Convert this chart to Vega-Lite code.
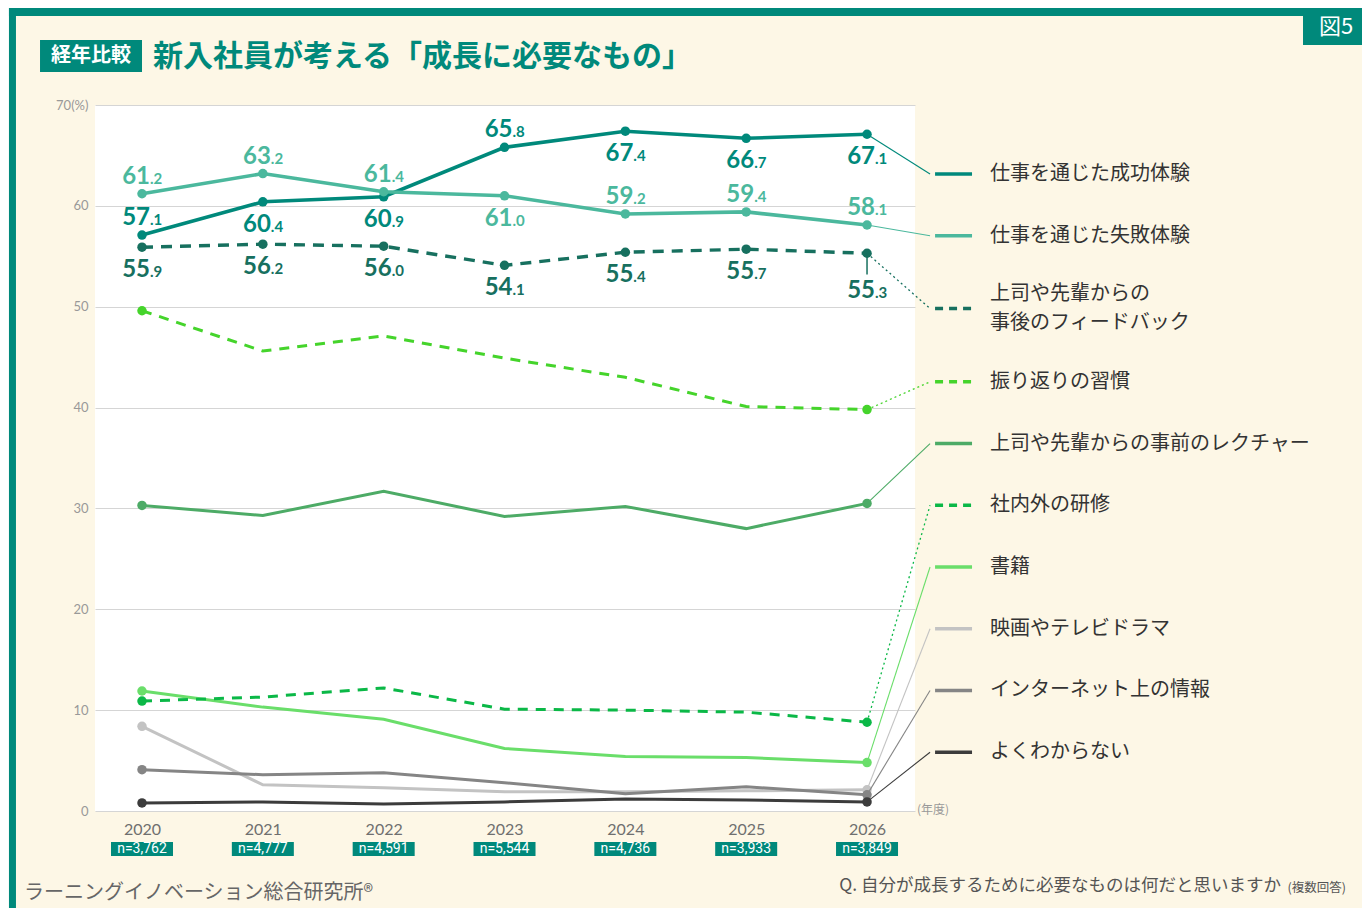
{
  "$schema": "https://vega.github.io/schema/vega-lite/v6.json",
  "width": 820,
  "height": 706,
  "autosize": {"type": "none"},
  "padding": {"left": 95, "top": 105, "right": 447, "bottom": 97},
  "background": "#fdf7e6",
  "config": {"view": {"fill": "white", "stroke": null}},
  "datasets": {
    "main": [
      {"series": "仕事を通じた成功体験", "year": 2020, "value": 57.1},
      {"series": "仕事を通じた成功体験", "year": 2021, "value": 60.4},
      {"series": "仕事を通じた成功体験", "year": 2022, "value": 60.9},
      {"series": "仕事を通じた成功体験", "year": 2023, "value": 65.8},
      {"series": "仕事を通じた成功体験", "year": 2024, "value": 67.4},
      {"series": "仕事を通じた成功体験", "year": 2025, "value": 66.7},
      {"series": "仕事を通じた成功体験", "year": 2026, "value": 67.1},
      {"series": "仕事を通じた失敗体験", "year": 2020, "value": 61.2},
      {"series": "仕事を通じた失敗体験", "year": 2021, "value": 63.2},
      {"series": "仕事を通じた失敗体験", "year": 2022, "value": 61.4},
      {"series": "仕事を通じた失敗体験", "year": 2023, "value": 61.0},
      {"series": "仕事を通じた失敗体験", "year": 2024, "value": 59.2},
      {"series": "仕事を通じた失敗体験", "year": 2025, "value": 59.4},
      {"series": "仕事を通じた失敗体験", "year": 2026, "value": 58.1},
      {"series": "上司や先輩からの事後のフィードバック", "year": 2020, "value": 55.9},
      {"series": "上司や先輩からの事後のフィードバック", "year": 2021, "value": 56.2},
      {"series": "上司や先輩からの事後のフィードバック", "year": 2022, "value": 56.0},
      {"series": "上司や先輩からの事後のフィードバック", "year": 2023, "value": 54.1},
      {"series": "上司や先輩からの事後のフィードバック", "year": 2024, "value": 55.4},
      {"series": "上司や先輩からの事後のフィードバック", "year": 2025, "value": 55.7},
      {"series": "上司や先輩からの事後のフィードバック", "year": 2026, "value": 55.3},
      {"series": "振り返りの習慣", "year": 2020, "value": 49.6},
      {"series": "振り返りの習慣", "year": 2021, "value": 45.6},
      {"series": "振り返りの習慣", "year": 2022, "value": 47.1},
      {"series": "振り返りの習慣", "year": 2023, "value": 44.9},
      {"series": "振り返りの習慣", "year": 2024, "value": 43.0},
      {"series": "振り返りの習慣", "year": 2025, "value": 40.1},
      {"series": "振り返りの習慣", "year": 2026, "value": 39.8},
      {"series": "上司や先輩からの事前のレクチャー", "year": 2020, "value": 30.3},
      {"series": "上司や先輩からの事前のレクチャー", "year": 2021, "value": 29.3},
      {"series": "上司や先輩からの事前のレクチャー", "year": 2022, "value": 31.7},
      {"series": "上司や先輩からの事前のレクチャー", "year": 2023, "value": 29.2},
      {"series": "上司や先輩からの事前のレクチャー", "year": 2024, "value": 30.2},
      {"series": "上司や先輩からの事前のレクチャー", "year": 2025, "value": 28.0},
      {"series": "上司や先輩からの事前のレクチャー", "year": 2026, "value": 30.5},
      {"series": "社内外の研修", "year": 2020, "value": 10.9},
      {"series": "社内外の研修", "year": 2021, "value": 11.3},
      {"series": "社内外の研修", "year": 2022, "value": 12.2},
      {"series": "社内外の研修", "year": 2023, "value": 10.1},
      {"series": "社内外の研修", "year": 2024, "value": 10.0},
      {"series": "社内外の研修", "year": 2025, "value": 9.8},
      {"series": "社内外の研修", "year": 2026, "value": 8.8},
      {"series": "書籍", "year": 2020, "value": 11.9},
      {"series": "書籍", "year": 2021, "value": 10.3},
      {"series": "書籍", "year": 2022, "value": 9.1},
      {"series": "書籍", "year": 2023, "value": 6.2},
      {"series": "書籍", "year": 2024, "value": 5.4},
      {"series": "書籍", "year": 2025, "value": 5.3},
      {"series": "書籍", "year": 2026, "value": 4.8},
      {"series": "映画やテレビドラマ", "year": 2020, "value": 8.4},
      {"series": "映画やテレビドラマ", "year": 2021, "value": 2.6},
      {"series": "映画やテレビドラマ", "year": 2022, "value": 2.3},
      {"series": "映画やテレビドラマ", "year": 2023, "value": 1.9},
      {"series": "映画やテレビドラマ", "year": 2024, "value": 1.9},
      {"series": "映画やテレビドラマ", "year": 2025, "value": 2.0},
      {"series": "映画やテレビドラマ", "year": 2026, "value": 2.1},
      {"series": "インターネット上の情報", "year": 2020, "value": 4.1},
      {"series": "インターネット上の情報", "year": 2021, "value": 3.6},
      {"series": "インターネット上の情報", "year": 2022, "value": 3.8},
      {"series": "インターネット上の情報", "year": 2023, "value": 2.8},
      {"series": "インターネット上の情報", "year": 2024, "value": 1.7},
      {"series": "インターネット上の情報", "year": 2025, "value": 2.4},
      {"series": "インターネット上の情報", "year": 2026, "value": 1.6},
      {"series": "よくわからない", "year": 2020, "value": 0.8},
      {"series": "よくわからない", "year": 2021, "value": 0.9},
      {"series": "よくわからない", "year": 2022, "value": 0.7},
      {"series": "よくわからない", "year": 2023, "value": 0.9},
      {"series": "よくわからない", "year": 2024, "value": 1.2},
      {"series": "よくわからない", "year": 2025, "value": 1.1},
      {"series": "よくわからない", "year": 2026, "value": 0.9}
    ],
    "legend": [
      {"series": "仕事を通じた成功体験", "label": "仕事を通じた成功体験", "order": 1},
      {"series": "仕事を通じた失敗体験", "label": "仕事を通じた失敗体験", "order": 2},
      {"series": "上司や先輩からの事後のフィードバック", "label": "上司や先輩からの\n事後のフィードバック", "order": 3},
      {"series": "振り返りの習慣", "label": "振り返りの習慣", "order": 4},
      {"series": "上司や先輩からの事前のレクチャー", "label": "上司や先輩からの事前のレクチャー", "order": 5},
      {"series": "社内外の研修", "label": "社内外の研修", "order": 6},
      {"series": "書籍", "label": "書籍", "order": 7},
      {"series": "映画やテレビドラマ", "label": "映画やテレビドラマ", "order": 8},
      {"series": "インターネット上の情報", "label": "インターネット上の情報", "order": 9},
      {"series": "よくわからない", "label": "よくわからない", "order": 10}
    ],
    "samples": [
      {"year": 2020, "n": "n=3,762"},
      {"year": 2021, "n": "n=4,777"},
      {"year": 2022, "n": "n=4,591"},
      {"year": 2023, "n": "n=5,544"},
      {"year": 2024, "n": "n=4,736"},
      {"year": 2025, "n": "n=3,933"},
      {"year": 2026, "n": "n=3,849"}
    ]
  },
  "layer": [
    {
      "data": {"name": "main"},
      "encoding": {
        "x": {"field": "year", "type": "quantitative", "scale": {"domain": [2019.611, 2026.397], "nice": false, "zero": false},
              "axis": {"values": [2020, 2021, 2022, 2023, 2024, 2025, 2026], "format": "d", "grid": false, "domain": false, "ticks": false, "labelFontSize": 16, "labelColor": "#6f6f6f", "labelFont": "Lato", "labelPadding": 10, "title": null}},
        "y": {"field": "value", "type": "quantitative", "scale": {"domain": [0, 70], "nice": false, "zero": false},
              "axis": {"values": [0, 10, 20, 30, 40, 50, 60, 70], "grid": true, "gridColor": "#d5d5d5", "gridWidth": 1, "domain": false, "ticks": false, "labelFontSize": 13, "labelColor": "#999999", "labelFont": "Lato", "labelPadding": 7, "labelExpr": "datum.value == 70 ? '70(%)' : datum.label", "title": null}},
        "color": {"field": "series", "type": "nominal", "legend": null,
                  "scale": {"domain": ["仕事を通じた成功体験", "仕事を通じた失敗体験", "上司や先輩からの事後のフィードバック", "振り返りの習慣", "上司や先輩からの事前のレクチャー", "社内外の研修", "書籍", "映画やテレビドラマ", "インターネット上の情報", "よくわからない"],
                            "range": ["#00897b", "#4bb89d", "#17705f", "#45d42b", "#4dab66", "#0bb847", "#6ade6a", "#c3c3c3", "#858585", "#3c3c3c"]}}
      },
      "layer": [
        {"transform": [{"filter": {"field": "series", "oneOf": ["映画やテレビドラマ", "インターネット上の情報", "よくわからない", "書籍", "上司や先輩からの事前のレクチャー"]}}],
         "mark": {"type": "line", "strokeWidth": 3}},
        {"transform": [{"filter": {"field": "series", "oneOf": ["社内外の研修", "振り返りの習慣"]}}],
         "mark": {"type": "line", "strokeWidth": 3, "strokeDash": [10, 8]}},
        {"transform": [{"filter": {"field": "series", "oneOf": ["上司や先輩からの事後のフィードバック"]}}],
         "mark": {"type": "line", "strokeWidth": 3.4, "strokeDash": [11, 8]}},
        {"transform": [{"filter": {"field": "series", "oneOf": ["仕事を通じた成功体験", "仕事を通じた失敗体験"]}}],
         "mark": {"type": "line", "strokeWidth": 3.6}},
        {"transform": [{"filter": "indexof(['仕事を通じた成功体験','仕事を通じた失敗体験','上司や先輩からの事後のフィードバック'], datum.series) >= 0 || datum.year == 2020 || datum.year == 2026"}],
         "mark": {"type": "circle", "size": 90, "opacity": 1}}
      ]
    },
    {
      "data": {"values": [{}]},
      "layer": [
        {"mark": {"type": "rect", "color": "white"},
         "encoding": {"x": {"datum": 2018.3, "scale": {"domain": [2019.611, 2026.397], "nice": false, "zero": false}}, "x2": {"datum": 2018.899},
                      "y": {"datum": -12, "scale": {"domain": [0, 70], "nice": false, "zero": false}}, "y2": {"datum": 85}}},
        {"mark": {"type": "rect", "color": "white"},
         "encoding": {"x": {"datum": 2018.3, "scale": {"domain": [2019.611, 2026.397], "nice": false, "zero": false}}, "x2": {"datum": 2031},
                      "y": {"datum": 79.615, "scale": {"domain": [0, 70], "nice": false, "zero": false}}, "y2": {"datum": 85}}},
        {"mark": {"type": "rect", "color": "#00897b"},
         "encoding": {"x": {"datum": 2018.899, "scale": {"domain": [2019.611, 2026.397], "nice": false, "zero": false}}, "x2": {"datum": 2031},
                      "y": {"datum": 78.822, "scale": {"domain": [0, 70], "nice": false, "zero": false}}, "y2": {"datum": 79.615}}},
        {"mark": {"type": "rect", "color": "#00897b"},
         "encoding": {"x": {"datum": 2018.899, "scale": {"domain": [2019.611, 2026.397], "nice": false, "zero": false}}, "x2": {"datum": 2018.957},
                      "y": {"datum": -12, "scale": {"domain": [0, 70], "nice": false, "zero": false}}, "y2": {"datum": 79.615}}},
        {"mark": {"type": "rect", "color": "#00897b"},
         "encoding": {"x": {"datum": 2029.608, "scale": {"domain": [2019.611, 2026.397], "nice": false, "zero": false}}, "x2": {"datum": 2031},
                      "y": {"datum": 75.947, "scale": {"domain": [0, 70], "nice": false, "zero": false}}, "y2": {"datum": 79.615}}},
        {"mark": {"type": "text", "text": "図5", "color": "white", "fontSize": 22, "font": "Noto Sans CJK JP", "align": "center", "baseline": "middle"},
         "encoding": {"x": {"datum": 2029.882, "scale": {"domain": [2019.611, 2026.397], "nice": false, "zero": false}},
                      "y": {"datum": 77.731, "scale": {"domain": [0, 70], "nice": false, "zero": false}}}},
        {"mark": {"type": "rect", "color": "#00897b"},
         "encoding": {"x": {"datum": 2019.156, "scale": {"domain": [2019.611, 2026.397], "nice": false, "zero": false}}, "x2": {"datum": 2020.0},
                      "y": {"datum": 73.27, "scale": {"domain": [0, 70], "nice": false, "zero": false}}, "y2": {"datum": 76.443}}},
        {"mark": {"type": "text", "text": "経年比較", "color": "white", "fontSize": 20, "fontWeight": "bold", "font": "Noto Sans CJK JP", "align": "center", "baseline": "middle"},
         "encoding": {"x": {"datum": 2019.578, "scale": {"domain": [2019.611, 2026.397], "nice": false, "zero": false}},
                      "y": {"datum": 74.856, "scale": {"domain": [0, 70], "nice": false, "zero": false}}}},
        {"mark": {"type": "text", "text": "新入社員が考える「成長に必要なもの」", "color": "#00897b", "fontSize": 30, "fontWeight": "bold", "font": "Noto Sans CJK JP", "align": "left", "baseline": "middle"},
         "encoding": {"x": {"datum": 2020.091, "scale": {"domain": [2019.611, 2026.397], "nice": false, "zero": false}},
                      "y": {"datum": 74.757, "scale": {"domain": [0, 70], "nice": false, "zero": false}}}},
        {"mark": {"type": "text", "text": "(年度)", "color": "#999999", "fontSize": 12, "font": "Noto Sans CJK JP", "align": "left", "baseline": "middle"},
         "encoding": {"x": {"datum": 2026.414, "scale": {"domain": [2019.611, 2026.397], "nice": false, "zero": false}},
                      "y": {"datum": 0.05, "scale": {"domain": [0, 70], "nice": false, "zero": false}}}},
        {"mark": {"type": "text", "text": "ラーニングイノベーション総合研究所®", "color": "#666666", "fontSize": 20, "font": "Noto Sans CJK JP", "align": "left", "baseline": "middle"},
         "encoding": {"x": {"datum": 2019.023, "scale": {"domain": [2019.611, 2026.397], "nice": false, "zero": false}},
                      "y": {"datum": -8.13, "scale": {"domain": [0, 70], "nice": false, "zero": false}}}},
        {"mark": {"type": "text", "text": "Q. 自分が成長するために必要なものは何だと思いますか", "color": "#555555", "fontSize": 17.5, "font": "Noto Sans CJK JP", "align": "right", "baseline": "middle"},
         "encoding": {"x": {"datum": 2029.4265, "scale": {"domain": [2019.611, 2026.397], "nice": false, "zero": false}},
                      "y": {"datum": -7.436, "scale": {"domain": [0, 70], "nice": false, "zero": false}}}},
        {"mark": {"type": "text", "text": "(複数回答)", "color": "#555555", "fontSize": 12.5, "font": "Noto Sans CJK JP", "align": "right", "baseline": "middle"},
         "encoding": {"x": {"datum": 2029.964, "scale": {"domain": [2019.611, 2026.397], "nice": false, "zero": false}},
                      "y": {"datum": -7.63, "scale": {"domain": [0, 70], "nice": false, "zero": false}}}}
      ]
    },
    {
      "data": {"name": "main"},
      "encoding": {
        "x": {"field": "year", "type": "quantitative", "scale": {"domain": [2019.611, 2026.397], "nice": false, "zero": false}},
        "y": {"field": "value", "type": "quantitative", "scale": {"domain": [0, 70], "nice": false, "zero": false}},
        "color": {"field": "series", "type": "nominal", "legend": null}
      },
      "layer": [
        {"transform": [{"filter": "(datum.series == '仕事を通じた成功体験' && (datum.year == 2020 || datum.year == 2023)) || (datum.series == '仕事を通じた失敗体験' && datum.year != 2023)"}],
         "layer": [
           {"mark": {"type": "text", "text": {"expr": "floor(datum.value)"}, "align": "right", "baseline": "alphabetic", "dx": 8, "dy": -10, "fontSize": 24, "fontWeight": "bold", "font": "Lato"}},
           {"mark": {"type": "text", "text": {"expr": "'.' + slice(format(datum.value, '.1f'), -1)"}, "align": "left", "baseline": "alphabetic", "dx": 8, "dy": -10, "fontSize": 15, "fontWeight": "bold", "font": "Lato"}}
         ]},
        {"transform": [{"filter": "(datum.series == '仕事を通じた成功体験' && datum.year != 2020 && datum.year != 2023) || (datum.series == '仕事を通じた失敗体験' && datum.year == 2023) || (datum.series == '上司や先輩からの事後のフィードバック' && datum.year != 2026)"}],
         "layer": [
           {"mark": {"type": "text", "text": {"expr": "floor(datum.value)"}, "align": "right", "baseline": "alphabetic", "dx": 8, "dy": 30, "fontSize": 24, "fontWeight": "bold", "font": "Lato"}},
           {"mark": {"type": "text", "text": {"expr": "'.' + slice(format(datum.value, '.1f'), -1)"}, "align": "left", "baseline": "alphabetic", "dx": 8, "dy": 30, "fontSize": 15, "fontWeight": "bold", "font": "Lato"}}
         ]},
        {"transform": [{"filter": "datum.series == '上司や先輩からの事後のフィードバック' && datum.year == 2026"}],
         "layer": [
           {"mark": {"type": "rule", "strokeWidth": 1.5}, "encoding": {"y2": {"datum": 53.2}}},
           {"mark": {"type": "text", "text": {"expr": "floor(datum.value)"}, "align": "right", "baseline": "alphabetic", "dx": 8, "dy": 45, "fontSize": 24, "fontWeight": "bold", "font": "Lato"}},
           {"mark": {"type": "text", "text": {"expr": "'.' + slice(format(datum.value, '.1f'), -1)"}, "align": "left", "baseline": "alphabetic", "dx": 8, "dy": 45, "fontSize": 15, "fontWeight": "bold", "font": "Lato"}}
         ]}
      ]
    },
    {
      "data": {"name": "main"},
      "transform": [
        {"filter": "datum.year == 2026"},
        {"lookup": "series", "from": {"data": {"values": [
          {"series": "仕事を通じた成功体験", "order": 1},
          {"series": "仕事を通じた失敗体験", "order": 2},
          {"series": "上司や先輩からの事後のフィードバック", "order": 3},
          {"series": "振り返りの習慣", "order": 4},
          {"series": "上司や先輩からの事前のレクチャー", "order": 5},
          {"series": "社内外の研修", "order": 6},
          {"series": "書籍", "order": 7},
          {"series": "映画やテレビドラマ", "order": 8},
          {"series": "インターネット上の情報", "order": 9},
          {"series": "よくわからない", "order": 10}
        ]}, "key": "series", "fields": ["order"]}},
        {"calculate": "63.16 - 6.12 * (datum.order - 1) - (datum.order >= 3 ? 1.1 : 0) - (datum.order >= 4 ? 1.15 : 0)", "as": "legendAt"}
      ],
      "encoding": {
        "x": {"field": "year", "type": "quantitative", "scale": {"domain": [2019.611, 2026.397], "nice": false, "zero": false}},
        "x2": {"datum": 2026.5215},
        "y": {"field": "value", "type": "quantitative", "scale": {"domain": [0, 70], "nice": false, "zero": false}},
        "y2": {"field": "legendAt"},
        "color": {"field": "series", "type": "nominal", "legend": null}
      },
      "layer": [
        {"transform": [{"filter": {"field": "series", "oneOf": ["仕事を通じた成功体験", "仕事を通じた失敗体験", "上司や先輩からの事前のレクチャー", "書籍", "映画やテレビドラマ", "インターネット上の情報", "よくわからない"]}}],
         "mark": {"type": "rule", "strokeWidth": 1.1}},
        {"transform": [{"filter": {"field": "series", "oneOf": ["上司や先輩からの事後のフィードバック", "振り返りの習慣", "社内外の研修"]}}],
         "mark": {"type": "rule", "strokeWidth": 1.3, "strokeDash": [2, 3]}}
      ]
    },
    {
      "data": {"name": "legend"},
      "transform": [
        {"calculate": "63.16 - 6.12 * (datum.order - 1) - (datum.order >= 3 ? 1.1 : 0) - (datum.order >= 4 ? 1.15 : 0)", "as": "legendAt"}
      ],
      "encoding": {
        "y": {"field": "legendAt", "type": "quantitative", "scale": {"domain": [0, 70], "nice": false, "zero": false}}
      },
      "layer": [
        {"transform": [{"filter": {"field": "series", "oneOf": ["仕事を通じた成功体験", "仕事を通じた失敗体験", "上司や先輩からの事前のレクチャー", "書籍", "映画やテレビドラマ", "インターネット上の情報", "よくわからない"]}}],
         "mark": {"type": "rule", "strokeWidth": 3.5},
         "encoding": {"x": {"datum": 2026.563, "scale": {"domain": [2019.611, 2026.397], "nice": false, "zero": false}}, "x2": {"datum": 2026.869},
                      "color": {"field": "series", "type": "nominal", "legend": null}}},
        {"transform": [{"filter": {"field": "series", "oneOf": ["上司や先輩からの事後のフィードバック", "振り返りの習慣", "社内外の研修"]}}],
         "mark": {"type": "rule", "strokeWidth": 3.5, "strokeDash": [8, 6]},
         "encoding": {"x": {"datum": 2026.563, "scale": {"domain": [2019.611, 2026.397], "nice": false, "zero": false}}, "x2": {"datum": 2026.869},
                      "color": {"field": "series", "type": "nominal", "legend": null}}},
        {"mark": {"type": "text", "align": "left", "baseline": "middle", "fontSize": 20, "font": "Noto Sans CJK JP", "color": "#333333", "lineBreak": "\n", "lineHeight": 29.5, "dy": {"expr": "datum.order == 3 ? -14.75 : 0"}},
         "encoding": {"x": {"datum": 2027.018, "scale": {"domain": [2019.611, 2026.397], "nice": false, "zero": false}},
                      "text": {"field": "label"}}}
      ]
    },
    {
      "data": {"name": "samples"},
      "encoding": {
        "x": {"field": "year", "type": "quantitative", "scale": {"domain": [2019.611, 2026.397], "nice": false, "zero": false}}
      },
      "layer": [
        {"mark": {"type": "rect", "width": 62, "color": "#00897b"},
         "encoding": {"y": {"datum": -3.074, "scale": {"domain": [0, 70], "nice": false, "zero": false}}, "y2": {"datum": -4.462}}},
        {"mark": {"type": "text", "color": "white", "fontSize": 14, "font": "Liberation Sans Narrow, Roboto", "align": "center", "baseline": "middle"},
         "encoding": {"y": {"datum": -3.768, "scale": {"domain": [0, 70], "nice": false, "zero": false}}, "text": {"field": "n"}}}
      ]
    }
  ]
}
